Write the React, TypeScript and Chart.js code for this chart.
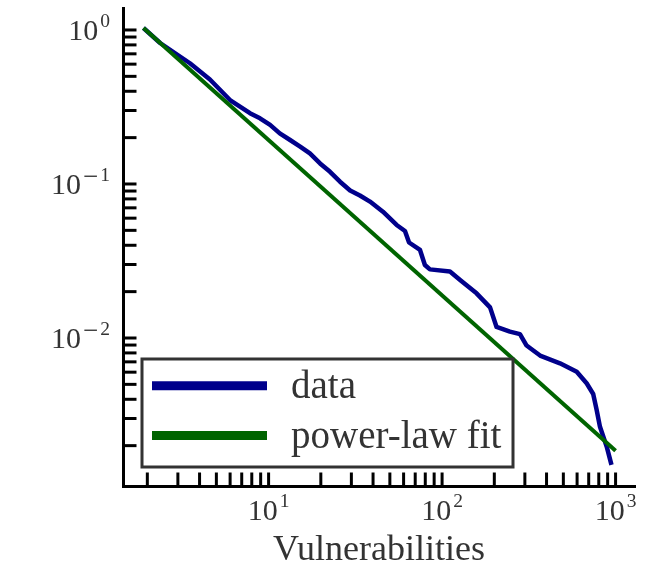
import React, { useEffect, useRef } from 'react';
import { Chart, registerables } from 'chart.js';

Chart.register(...registerables);

// ---- data ----
const seriesLabels = ['data', 'power-law fit'];

const dataX = [1.9, 2.37, 3.52, 4.59, 5.99, 7.81, 8.92, 10.2, 11.6, 13.3, 15.2, 17.3, 19.8, 22.6, 25.8, 29.5, 33.6, 38.4, 45.6, 54.7, 61.1, 64.5, 74.6, 79.6, 85.1, 111, 127, 158, 189, 206, 246, 281, 307, 367, 478, 597, 681, 743, 778, 813, 889, 947];
const dataY = [1.03, 0.823, 0.608, 0.477, 0.351, 0.288, 0.267, 0.242, 0.213, 0.193, 0.175, 0.158, 0.136, 0.12, 0.1035, 0.0908, 0.0842, 0.0769, 0.0661, 0.0542, 0.0495, 0.0417, 0.0373, 0.0298, 0.0279, 0.027, 0.0238, 0.0195, 0.0158, 0.0118, 0.011, 0.0106, 0.00893, 0.00769, 0.00685, 0.00604, 0.00508, 0.00433, 0.00341, 0.00265, 0.00197, 0.0015];

const fitX = [1.9, 1000];
const fitY = [1.03, 0.00185];

const xTickValues = [2, 3, 4, 5, 6, 7, 8, 9, 10, 20, 30, 40, 50, 60, 70, 80, 90, 100, 200, 300, 400, 500, 600, 700, 800, 900, 1000];
const yTickValues = [0.002, 0.003, 0.004, 0.005, 0.006, 0.007, 0.008, 0.009, 0.01, 0.02, 0.03, 0.04, 0.05, 0.06, 0.07, 0.08, 0.09, 0.1, 0.2, 0.3, 0.4, 0.5, 0.6, 0.7, 0.8, 0.9, 1];

// major tick labels: base and exponent
const xMajorTicks = [10, 100, 1000];
const xMajorLabels = [['10', '1'], ['10', '2'], ['10', '3']];
const yMajorTicks = [1, 0.1, 0.01];
const yMajorLabels = [['10', '0'], ['10', '−1'], ['10', '−2']];

const xTitle = 'Vulnerabilities';

const X_MIN = 1.448;
const X_MAX = 1294;
const Y_MIN = 0.001094;
const Y_MAX = 1.389;

const FONT = "'Liberation Serif', 'Times New Roman', serif";
const TEXT_COLOR = '#333333';

const BASE_FONT = `30px ${FONT}`;
const EXP_FONT = `19.5px ${FONT}`;
const MINUS_FONT = `27px ${FONT}`;

function labelWidth(ctx: CanvasRenderingContext2D, base: string, exp: string) {
  ctx.font = BASE_FONT;
  let w = ctx.measureText(base).width + 2;
  let e = exp;
  if (e.startsWith('−')) {
    ctx.font = MINUS_FONT;
    w += ctx.measureText('−').width + 2;
    e = e.slice(1);
  }
  ctx.font = EXP_FONT;
  w += ctx.measureText(e).width;
  return w;
}

function drawLabel(ctx: CanvasRenderingContext2D, x: number, baseline: number, base: string, exp: string) {
  ctx.font = BASE_FONT;
  ctx.fillText(base, x, baseline);
  x += ctx.measureText(base).width + 2;
  let e = exp;
  if (e.startsWith('−')) {
    ctx.font = MINUS_FONT;
    ctx.fillText('−', x, baseline - 9);
    x += ctx.measureText('−').width + 2;
    e = e.slice(1);
  }
  ctx.font = EXP_FONT;
  ctx.fillText(e, x, baseline - 12.5);
}

const majorLabels = {
  id: 'majorLabels',
  afterDraw(chart: any) {
    const { ctx, chartArea } = chart;
    ctx.save();
    ctx.fillStyle = TEXT_COLOR;
    ctx.textAlign = 'left';
    ctx.textBaseline = 'alphabetic';
    const xs = chart.scales.x;
    xMajorTicks.forEach((v, i) => {
      const [b, e] = xMajorLabels[i];
      const px = xs.getPixelForValue(v);
      const w = labelWidth(ctx, b, e);
      drawLabel(ctx, px - w / 2, chartArea.bottom + 33.5, b, e);
    });
    const ys = chart.scales.y;
    yMajorTicks.forEach((v, i) => {
      const [b, e] = yMajorLabels[i];
      const py = ys.getPixelForValue(v);
      const w = labelWidth(ctx, b, e);
      drawLabel(ctx, chartArea.left - 13 - w, py + 10, b, e);
    });
    ctx.restore();
  },
};

const inwardTicks = {
  id: 'inwardTicks',
  afterDraw(chart: any) {
    const { ctx, chartArea } = chart;
    const len = 13.5;
    ctx.save();
    ctx.strokeStyle = '#000';
    ctx.lineWidth = 3;
    ctx.lineCap = 'butt';
    const xs = chart.scales.x;
    xs.ticks.forEach((t: any) => {
      const px = xs.getPixelForValue(t.value);
      ctx.beginPath();
      ctx.moveTo(px, chartArea.bottom);
      ctx.lineTo(px, chartArea.bottom - len);
      ctx.stroke();
    });
    const ys = chart.scales.y;
    ys.ticks.forEach((t: any) => {
      const py = ys.getPixelForValue(t.value);
      ctx.beginPath();
      ctx.moveTo(chartArea.left, py);
      ctx.lineTo(chartArea.left + len, py);
      ctx.stroke();
    });
    ctx.restore();
  },
};

const boxLegend = {
  id: 'boxLegend',
  afterDraw(chart: any) {
    const { ctx, chartArea } = chart;
    const left = chartArea.left + 19;
    const right = chartArea.left + 390;
    const top = chartArea.bottom - 127;
    const bottom = chartArea.bottom - 19;
    ctx.save();
    ctx.fillStyle = '#ffffff';
    ctx.fillRect(left, top, right - left, bottom - top);
    ctx.strokeStyle = '#333333';
    ctx.lineWidth = 3;
    ctx.strokeRect(left, top, right - left, bottom - top);
    const rowY = [top + 26.7, top + 76.5];
    const ds = chart.data.datasets;
    ds.forEach((d: any, i: number) => {
      const y = rowY[i];
      ctx.strokeStyle = d.borderColor;
      ctx.lineWidth = 9;
      ctx.lineCap = 'butt';
      ctx.beginPath();
      ctx.moveTo(left + 10, y);
      ctx.lineTo(left + 125, y);
      ctx.stroke();
      ctx.fillStyle = TEXT_COLOR;
      ctx.font = `39px ${FONT}`;
      ctx.textAlign = 'left';
      ctx.textBaseline = 'alphabetic';
      ctx.fillText(d.label, left + 149, y + 12.6);
    });
    ctx.restore();
  },
};

export default function App() {
  const ref = useRef<HTMLCanvasElement>(null);
  useEffect(() => {
    document.body.style.margin = '0';
    const canvas = ref.current!;
    const chart = new Chart(canvas, {
      type: 'line',
      data: {
        datasets: [
          {
            label: seriesLabels[0],
            data: dataX.map((x, i) => ({ x, y: dataY[i] })),
            borderColor: '#00008b',
            borderWidth: 4.5,
            pointRadius: 0,
            tension: 0,
            fill: false,
            borderJoinStyle: 'round',
            order: 1,
          },
          {
            label: seriesLabels[1],
            data: fitX.map((x, i) => ({ x, y: fitY[i] })),
            borderColor: '#006400',
            borderWidth: 4,
            pointRadius: 0,
            tension: 0,
            fill: false,
            order: 0,
          },
        ],
      },
      options: {
        responsive: false,
        animation: false,
        layout: { padding: { left: 0, right: 32, top: 8, bottom: 0 } },
        plugins: { legend: { display: false }, tooltip: { enabled: false } },
        scales: {
          x: {
            type: 'logarithmic',
            min: X_MIN,
            max: X_MAX,
            afterBuildTicks: (scale: any) => {
              scale.ticks = xTickValues.map((v) => ({ value: v }));
            },
            afterFit: (scale: any) => {
              scale.height = 83;
              scale.paddingLeft = 0;
              scale.paddingRight = 0;
            },
            grid: { display: false, drawTicks: false },
            border: { display: true, color: '#000', width: 3 },
            ticks: { display: false, autoSkip: false },
            title: {
              display: true,
              text: xTitle,
              color: TEXT_COLOR,
              font: { family: FONT, size: 36, lineHeight: 1.0 },
              padding: 0,
            },
          },
          y: {
            type: 'logarithmic',
            min: Y_MIN,
            max: Y_MAX,
            afterBuildTicks: (scale: any) => {
              scale.ticks = yTickValues.map((v) => ({ value: v }));
            },
            afterFit: (scale: any) => {
              scale.width = 123;
              scale.paddingTop = 0;
              scale.paddingBottom = 0;
            },
            grid: { display: false, drawTicks: false },
            border: { display: true, color: '#000', width: 3 },
            ticks: { display: false, autoSkip: false },
          },
        },
      },
      plugins: [inwardTicks, majorLabels, boxLegend],
    } as any);
    return () => chart.destroy();
  }, []);
  return <canvas ref={ref} width={667} height={569} style={{ display: 'block' }} />;
}
